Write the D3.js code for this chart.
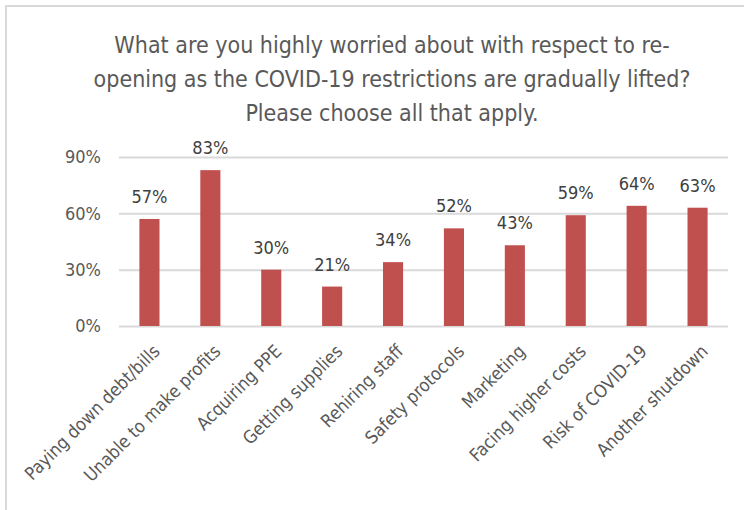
<!DOCTYPE html>
<html>
<head>
<meta charset="utf-8">
<script src="https://cdn.jsdelivr.net/npm/d3@7"></script>
<style>
  html, body { margin: 0; padding: 0; background: #fff; }
  svg { display: block; }
</style>
</head>
<body>
<svg id="chart" width="744" height="510"></svg>
<script>
// Survey question and answer data
const titleLines = [
  "What are you highly worried about with respect to re-",
  "opening as the COVID-19 restrictions are gradually lifted?",
  "Please choose all that apply."
];
const categories = [
  "Paying down debt/bills",
  "Unable to make profits",
  "Acquiring PPE",
  "Getting supplies",
  "Rehiring staff",
  "Safety protocols",
  "Marketing",
  "Facing higher costs",
  "Risk of COVID-19",
  "Another shutdown"
];
const values = [57, 83, 30, 21, 34, 52, 43, 59, 64, 63];
const yTicks = [0, 30, 60, 90];

const FONT = "'Liberation Sans Narrow', 'DejaVu Sans Condensed', 'Open Sans', sans-serif";
const svg = d3.select("#chart");

// Chart area frame (top and left edges)
svg.append("path")
  .attr("d", "M6,510 L6,6 L744,6")
  .attr("fill", "none")
  .attr("stroke", "#d9d9d9")
  .attr("stroke-width", 2);

const margin = { left: 119, right: 16 };
const width = 744 - margin.left - margin.right;
const plotTop = 157, plotBottom = 326;

const x = d3.scaleBand().domain(categories).range([margin.left, margin.left + width]).paddingInner(0.67).paddingOuter(0.335);
const y = d3.scaleLinear().domain([0, 90]).range([plotBottom, plotTop]);

// Title
const title = svg.append("text")
  .attr("text-anchor", "middle")
  .attr("fill", "#595959")
  .style("font-family", FONT)
  .style("font-size", "23px");
titleLines.forEach((t, i) => {
  title.append("tspan").attr("x", 392).attr("y", 53 + i * 34).text(t);
});

// Gridlines and y tick labels
const yAxis = d3.axisLeft(y).tickValues(yTicks).tickSize(-width).tickFormat(d => d + "%").tickPadding(18);
const gy = svg.append("g").attr("transform", `translate(${margin.left},0)`).call(yAxis);
gy.select(".domain").remove();
gy.selectAll(".tick line").attr("stroke", "#d9d9d9").attr("stroke-width", 2);
gy.selectAll(".tick text")
  .attr("fill", "#595959")
  .style("font-family", FONT)
  .style("font-size", "18px");

// Bars
svg.append("g").selectAll("rect")
  .data(values)
  .join("rect")
  .attr("x", (d, i) => x(categories[i]))
  .attr("y", d => y(d))
  .attr("width", x.bandwidth())
  .attr("height", d => y(0) - y(d))
  .attr("fill", "#c0504d");

// Value labels
svg.append("g").selectAll("text")
  .data(values)
  .join("text")
  .attr("x", (d, i) => x(categories[i]) + x.bandwidth() / 2)
  .attr("y", d => y(d) - 16)
  .attr("text-anchor", "middle")
  .attr("fill", "#404040")
  .style("font-family", FONT)
  .style("font-size", "18px")
  .text(d => d + "%");

// Category axis with rotated labels
const xAxis = d3.axisBottom(x).tickSize(0).tickPadding(0);
const gx = svg.append("g").attr("transform", `translate(0,${plotBottom})`).call(xAxis);
gx.select(".domain").remove();
gx.selectAll(".tick text")
  .attr("fill", "#595959")
  .style("font-family", FONT)
  .style("font-size", "18px")
  .attr("text-anchor", "end")
  .attr("dy", "0.35em")
  .attr("transform", "translate(7,22) rotate(-45)");
</script>
</body>
</html>
